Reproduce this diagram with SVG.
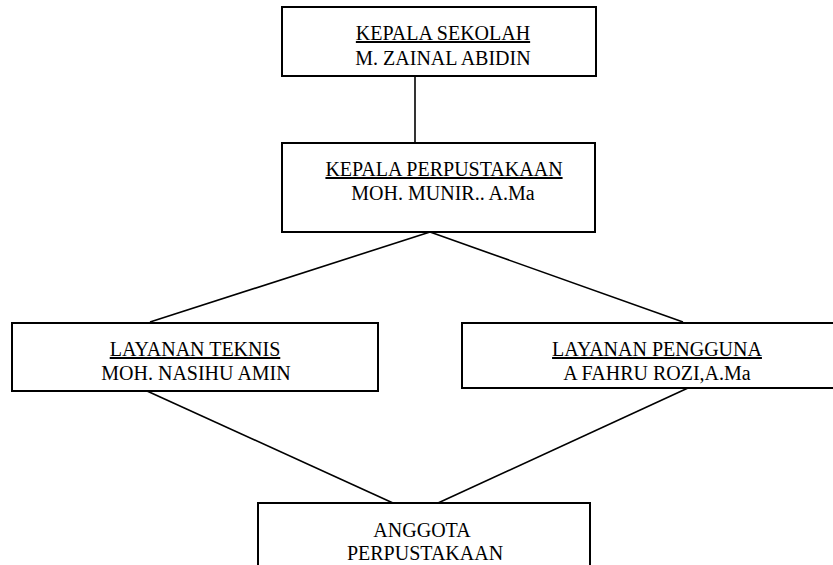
<svg xmlns="http://www.w3.org/2000/svg" width="833" height="565" viewBox="0 0 833 565">
<style>
.box{fill:#fff;stroke:#000;stroke-width:2}
.t{font-family:"Liberation Serif","Times New Roman",serif;font-size:20px;fill:#000;text-anchor:middle}
.u{text-decoration:underline}
.c{stroke:#000;stroke-width:1.6;fill:none}
</style>
<rect width="833" height="565" fill="#fff"/>
<g id="connectors">
<line class="c" x1="415" y1="76" x2="415" y2="143"/>
<line class="c" x1="430" y1="232" x2="150" y2="322"/>
<line class="c" x1="430" y1="232" x2="683" y2="322"/>
<line class="c" x1="147" y1="391" x2="393" y2="503"/>
<line class="c" x1="688" y1="388" x2="438" y2="503"/>
</g>
<g id="kepala-sekolah">
<rect class="box" x="282" y="7" width="314" height="69"/>
<text class="t u" x="443" y="40">KEPALA SEKOLAH</text>
<text class="t" x="443" y="65">M. ZAINAL ABIDIN</text>
</g>
<g id="kepala-perpustakaan">
<rect class="box" x="282" y="143" width="313" height="89"/>
<text class="t u" x="444" y="176">KEPALA PERPUSTAKAAN</text>
<text class="t" x="443" y="200">MOH. MUNIR.. A.Ma</text>
</g>
<g id="layanan-teknis">
<rect class="box" x="12" y="323" width="366" height="68"/>
<text class="t u" x="195" y="356">LAYANAN TEKNIS</text>
<text class="t" x="196" y="380">MOH. NASIHU AMIN</text>
</g>
<g id="layanan-pengguna">
<rect class="box" x="462" y="323" width="390" height="65"/>
<text class="t u" x="657" y="356">LAYANAN PENGGUNA</text>
<text class="t" x="657" y="380">A FAHRU ROZI,A.Ma</text>
</g>
<g id="anggota">
<rect class="box" x="258" y="503" width="332" height="80"/>
<text class="t" x="422" y="537">ANGGOTA</text>
<text class="t" x="425" y="560">PERPUSTAKAAN</text>
</g>
</svg>
